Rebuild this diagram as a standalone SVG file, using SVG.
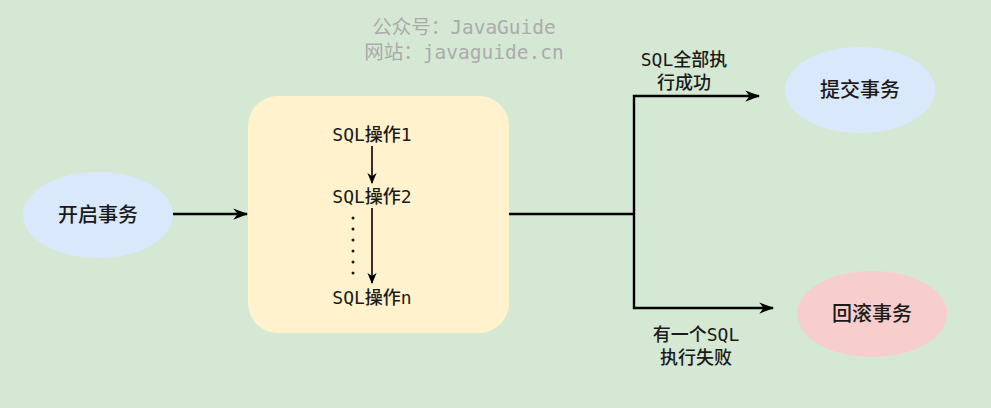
<svg xmlns="http://www.w3.org/2000/svg" width="991" height="408" viewBox="0 0 991 408">
<style>
.t{font-family:"DejaVu Sans Mono","Noto Sans CJK SC",monospace;fill:#1a1a1a;text-anchor:middle;font-weight:500}
.n{font-size:20px}
.s{font-size:18px}
.wm{font-family:"DejaVu Sans Mono","Noto Sans CJK SC",monospace;font-size:19.5px;fill:#ababab;text-anchor:middle}
.c{fill:none;stroke:#000;stroke-width:2.4}
.ci{fill:none;stroke:#000;stroke-width:1.6}
</style>
<defs>
<marker id="a" viewBox="0 0 12 12" refX="11" refY="6" markerWidth="15" markerHeight="15" markerUnits="userSpaceOnUse" orient="auto">
<path d="M0,1.5 L12,6 L0,10.5 L3.5,6 Z" fill="#000"/>
</marker>
<marker id="ai" viewBox="0 0 12 12" refX="11" refY="6" markerWidth="11" markerHeight="11" markerUnits="userSpaceOnUse" orient="auto">
<path d="M0,1 L12,6 L0,11 L3.5,6 Z" fill="#000"/>
</marker>
</defs>
<rect width="991" height="408" fill="#d5e8d4"/>
<g id="watermark">
<text class="wm" x="464" y="34">公众号：JavaGuide</text>
<text class="wm" x="464" y="59">网站：javaguide.cn</text>
</g>
<g id="start">
<ellipse cx="98" cy="215" rx="75" ry="43" fill="#dae8fc"/>
<text class="t n" x="98" y="222">开启事务</text>
</g>
<g id="sqlbox">
<rect x="248" y="96" width="261" height="237" rx="30" fill="#fff2cc"/>
<text class="t s" x="372" y="141">SQL操作1</text>
<text class="t s" x="372" y="203">SQL操作2</text>
<text class="t s" x="372" y="304">SQL操作n</text>
<g fill="#1a1a1a">
<circle cx="353" cy="218" r="1.5"/>
<circle cx="353" cy="229" r="1.5"/>
<circle cx="353" cy="240" r="1.5"/>
<circle cx="353" cy="251" r="1.5"/>
<circle cx="353" cy="262" r="1.5"/>
<circle cx="353" cy="273" r="1.5"/>
</g>
</g>
<g id="commit">
<ellipse cx="860" cy="90" rx="75" ry="43" fill="#dae8fc"/>
<text class="t n" x="860" y="97">提交事务</text>
</g>
<g id="rollback">
<ellipse cx="872" cy="314" rx="75" ry="43" fill="#f8cecc"/>
<text class="t n" x="872" y="321">回滚事务</text>
</g>
<g id="labels">
<text class="t s" x="684" y="66">SQL全部执</text>
<text class="t s" x="684" y="89">行成功</text>
<text class="t s" x="696" y="341">有一个SQL</text>
<text class="t s" x="696" y="364">执行失败</text>
</g>
<g id="connectors">
<path class="c" d="M173,214 L247,214" marker-end="url(#a)"/>
<path class="c" d="M509,214 L634,214"/>
<path class="c" d="M634,214 L634,96 L759,96" marker-end="url(#a)"/>
<path class="c" d="M634,214 L634,308 L773,308" marker-end="url(#a)"/>
<path class="ci" d="M372,146 L372,183" marker-end="url(#ai)"/>
<path class="ci" d="M372,208 L372,283" marker-end="url(#ai)"/>
</g>
</svg>
